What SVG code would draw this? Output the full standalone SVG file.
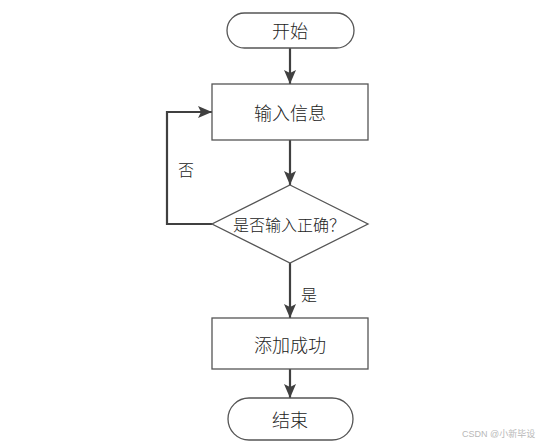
<svg xmlns="http://www.w3.org/2000/svg" width="542" height="447" viewBox="0 0 542 447">
<defs>
<style>
.shape{fill:#fff;stroke:#555;stroke-width:1.3}
.t{font-family:"Noto Sans CJK SC","Liberation Sans",sans-serif;fill:#222;text-anchor:middle;dominant-baseline:central;font-weight:300}
.c{fill:none;stroke:#404040;stroke-width:2.2}
.wm{font-family:"Liberation Sans","Noto Sans CJK SC",sans-serif;fill:#b8b8b8;font-size:9px}
</style>
<marker id="ah" markerWidth="14" markerHeight="12" viewBox="0 0 14 12" refX="14" refY="6" orient="auto" markerUnits="userSpaceOnUse">
<path d="M0,0 L14,6 L0,12 L3,6 Z" fill="#404040"/>
</marker>
</defs>
<rect width="542" height="447" fill="#fff"/>
<g id="connectors">
<line class="c" x1="290" y1="48" x2="290" y2="84" marker-end="url(#ah)"/>
<line class="c" x1="290" y1="140" x2="290" y2="185" marker-end="url(#ah)"/>
<polyline class="c" points="212,224 167,224 167,112 212,112" marker-end="url(#ah)"/>
<line class="c" x1="290" y1="263" x2="290" y2="318" marker-end="url(#ah)"/>
<line class="c" x1="290" y1="369" x2="290" y2="398" marker-end="url(#ah)"/>
<text class="t" x="186" y="169" font-size="16">否</text>
<text class="t" x="309" y="294" font-size="16">是</text>
</g>
<g id="start">
<rect class="shape" x="227" y="13" width="127" height="35" rx="17.5"/>
<text class="t" x="290" y="30" font-size="18">开始</text>
</g>
<g id="input">
<rect class="shape" x="212" y="84" width="156" height="56"/>
<text class="t" x="290" y="112" font-size="18">输入信息</text>
</g>
<g id="check">
<polygon class="shape" points="290,185 368,224 290,263 212,224"/>
<text class="t" x="289" y="224" font-size="16">是否输入正确？</text>
</g>
<g id="success">
<rect class="shape" x="212" y="318" width="156" height="51"/>
<text class="t" x="290" y="344" font-size="18">添加成功</text>
</g>
<g id="end">
<rect class="shape" x="228" y="398" width="125" height="42" rx="21"/>
<text class="t" x="290" y="419" font-size="18">结束</text>
</g>
<text class="wm" x="462" y="437">CSDN @小新毕设</text>
</svg>
